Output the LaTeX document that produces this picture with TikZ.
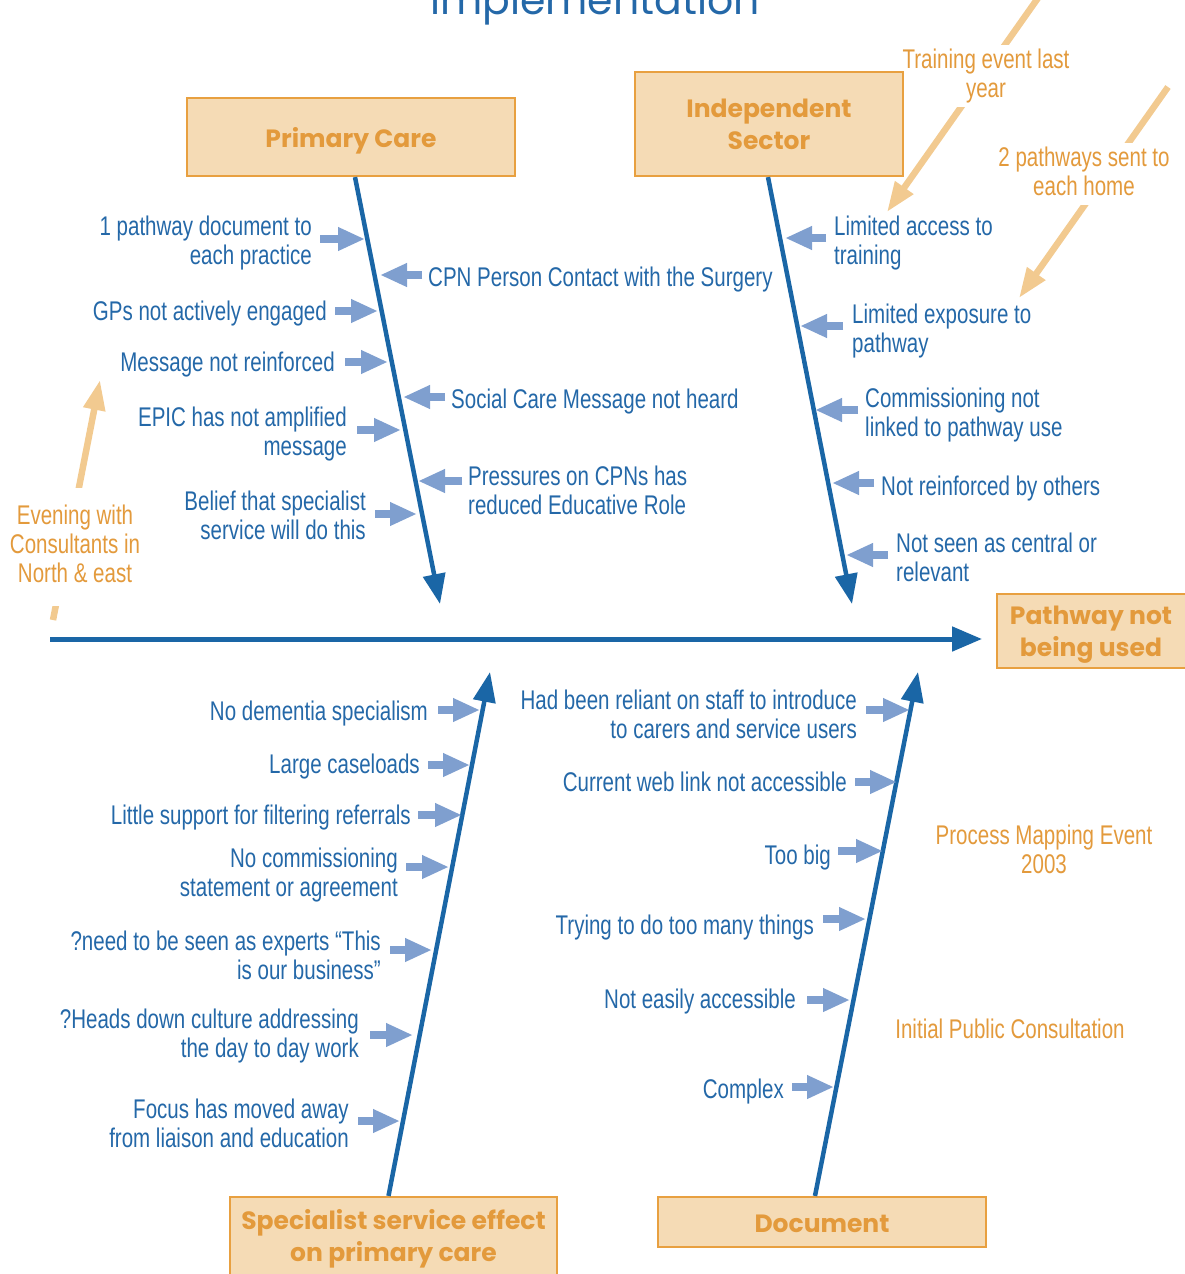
\documentclass[tikz,border=0pt]{standalone}
\usepackage{fontspec}
\setmainfont{Liberation Sans}[FakeStretch=0.76]
\newfontfamily\boxfont{Poppins}
\usetikzlibrary{arrows.meta,calc}
\definecolor{tblue}{HTML}{2468A8}
\definecolor{bblue}{HTML}{1A66A6}
\definecolor{lblue}{HTML}{7F9FCF}
\definecolor{torange}{HTML}{E39A3C}
\definecolor{boxfill}{HTML}{F5DBB5}
\definecolor{boxline}{HTML}{E8A040}
\definecolor{aorange}{HTML}{F2CA90}
\tikzset{
  lbl/.style={text=tblue, font=\fontsize{27}{29}\selectfont, inner sep=0pt, execute at end node={\vphantom{y}}},
  lblR/.style={lbl, anchor=east, align=right},
  lblL/.style={lbl, anchor=west, align=left},
  olbl/.style={text=torange, font=\fontsize{27}{29}\selectfont, align=center, fill=white,
    inner xsep=0.5pt, inner ysep=4pt, execute at end node={\vphantom{y}}},
  catbox/.style={draw=boxline, line width=2.2pt, fill=boxfill, text=torange, align=center,
    font=\boxfont\bfseries\fontsize{25}{32}\selectfont, inner sep=0pt},
  boxtext/.style={text=torange, align=center, font=\boxfont\bfseries\fontsize{25}{32}\selectfont, inner sep=0pt},
  bone/.style={draw=bblue, line width=4.5pt, -{Triangle[length=30pt,width=22pt]}},
  sarr/.style={draw=lblue, line width=8pt, -{Triangle[length=27pt,width=22pt]}},
  oarr/.style={draw=aorange, line width=6.5pt, -{Triangle[length=30pt,width=21pt]}},
}
\begin{document}
\begin{tikzpicture}[x=1pt,y=-1pt]
\useasboundingbox (0,0) rectangle (1184,1274);

% title
\node[anchor=base, text=tblue, font=\boxfont\fontsize{41}{45}\selectfont, inner sep=0pt] (title) at (595,14) {implementation};

% orange annotations (drawn first so boxes sit on top)
\coordinate (o1s) at (53,620);
\coordinate (o1t) at (100,380);
\coordinate (o2s) at (1038,-2);
\coordinate (o2t) at (887,212);
\coordinate (o3s) at (1168,87);
\coordinate (o3t) at (1019,298);
\draw[oarr] (o1s) -- (o1t);
\draw[oarr] (o2s) -- (o2t);
\draw[oarr] (o3s) -- (o3t);
\node[olbl, inner ysep=17pt] (o1) at (75,547) {Evening with\\Consultants in\\North \& east};
\node[olbl] (o2) at (986,76) {Training event last\\year};
\node[olbl] (o3) at (1084,174) {2 pathways sent to\\each home};
\node[olbl] (o4) at (1044,852) {Process Mapping Event\\2003};
\node[olbl] (o5) at (1010,1032) {Initial Public Consultation};

% category boxes
\node[catbox, minimum width=328pt, minimum height=78pt] (pc) at (351,137) {\raisebox{-3.5pt}[\height][\depth]{Primary Care}};
\node[catbox, minimum width=268pt, minimum height=104pt] (is) at (769,124) {Independent\\Sector};
\node[catbox, minimum width=196pt, minimum height=74pt] (eff) at (1095,631) {};
\node[boxtext] (efft) at ($(eff.center)+(-4,4)$) {Pathway not\\being used};
\node[catbox, minimum width=327pt, minimum height=84pt] (sp) at (393.5,1239) {Specialist service effect\\on primary care};
\node[catbox, minimum width=328pt, minimum height=50pt] (doc) at (822,1222) {\raisebox{-1.5pt}[\height][\depth]{Document}};

% spine and bones
\coordinate (spS) at (50,639);
\coordinate (spT) at (982,639);
\draw[bone, line width=5pt, -{Triangle[length=30pt,width=24pt]}] (spS) -- (spT);
\coordinate (pcT) at (440,604);
\coordinate (isT) at (852,604);
\coordinate (spBT) at (490,672);
\coordinate (docT) at (918,672);
\draw[bone] ($(pc.south)+(4,0)$) -- (pcT);
\draw[bone] ($(is.south)+(-1,0)$) -- (isT);
\draw[bone] ($(sp.north)+(-5,0)$) -- (spBT);
\draw[bone] ($(doc.north)+(-7,0)$) -- (docT);

% Primary care causes
\node[lblR] (a1) at (312,243) {1 pathway document to\\each practice};
\node[lblR] (a2) at (327,314) {GPs not actively engaged};
\node[lblR] (a3) at (335,365) {Message not reinforced};
\node[lblR] (a4) at (347,434) {EPIC has not amplified\\message};
\node[lblR] (a5) at (366,518) {Belief that specialist\\service will do this};
\node[lblL] (b1) at (428,280) {CPN Person Contact with the Surgery};
\node[lblL] (b2) at (451,402) {Social Care Message not heard};
\node[lblL] (b3) at (468,493) {Pressures on CPNs has\\reduced Educative Role};
\draw[sarr] (320,239) -- (365,239);
\draw[sarr] (335,311) -- (378,311);
\draw[sarr] (345,362) -- (388,362);
\draw[sarr] (357,430) -- (401,430);
\draw[sarr] (375,514) -- (417,514);
\draw[sarr] (422,275) -- (380,275);
\draw[sarr] (445,397) -- (403,397);
\draw[sarr] (462,481) -- (418,481);

% Independent sector causes
\node[lblL] (c1) at (834,243) {Limited access to\\training};
\node[lblL] (c2) at (852,331) {Limited exposure to\\pathway};
\node[lblL] (c3) at (865,415) {Commissioning not\\linked to pathway use};
\node[lblL] (c4) at (881,489) {Not reinforced by others};
\node[lblL] (c5) at (896,560) {Not seen as central or\\relevant};
\draw[sarr] (826,238) -- (785,238);
\draw[sarr] (843,326) -- (800,326);
\draw[sarr] (858,410) -- (815,410);
\draw[sarr] (874,483) -- (832,483);
\draw[sarr] (888,555) -- (846,555);

% Specialist causes
\node[lblR] (d1) at (428,714) {No dementia specialism};
\node[lblR] (d2) at (420,767) {Large caseloads};
\node[lblR] (d3) at (411,818) {Little support for filtering referrals};
\node[lblR] (d4) at (398,875) {No commissioning\\statement or agreement};
\node[lblR] (d5) at (381,958) {?need to be seen as experts “This\\is our business”};
\node[lblR] (d6) at (359,1036) {?Heads down culture addressing\\the day to day work};
\node[lblR] (d7) at (349,1126) {Focus has moved away\\from liaison and education};
\draw[sarr] (438,710) -- (480,710);
\draw[sarr] (428,765) -- (470,765);
\draw[sarr] (418,815) -- (462,815);
\draw[sarr] (406,867) -- (449,867);
\draw[sarr] (390,950) -- (432,950);
\draw[sarr] (370,1035) -- (413,1035);
\draw[sarr] (358,1121) -- (400,1121);

% Document causes
\node[lblR] (e1) at (857,717) {Had been reliant on staff to introduce\\to carers and service users};
\node[lblR] (e2) at (847,785) {Current web link not accessible};
\node[lblR] (e3) at (831,858) {Too big};
\node[lblR] (e4) at (814,928) {Trying to do too many things};
\node[lblR] (e5) at (796,1002) {Not easily accessible};
\node[lblR] (e6) at (784,1092) {Complex};
\draw[sarr] (866,710) -- (910,710);
\draw[sarr] (855,782) -- (897,782);
\draw[sarr] (838,851) -- (883,851);
\draw[sarr] (823,919) -- (866,919);
\draw[sarr] (807,1000) -- (850,1000);
\draw[sarr] (792,1087) -- (834,1087);
\end{tikzpicture}
\end{document}
